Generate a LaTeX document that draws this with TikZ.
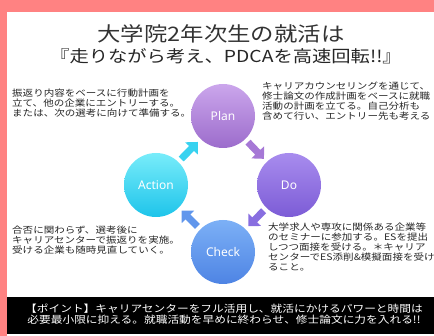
\documentclass[tikz,border=0pt]{standalone}
\usepackage{fontspec}
\usepackage{tikz}
\usetikzlibrary{arrows.meta}
\newfontfamily\jpfont[FakeStretch=1.17]{Noto Sans CJK JP}
\newfontfamily\latinfont{Noto Sans}
\definecolor{framepink}{HTML}{FF8282}
\definecolor{planTop}{HTML}{CBA6EC}
\definecolor{planBot}{HTML}{9C6CCC}
\definecolor{doTop}{HTML}{A88CEE}
\definecolor{doBot}{HTML}{7C5CD6}
\definecolor{checkTop}{HTML}{7CB0F6}
\definecolor{checkBot}{HTML}{4E84E4}
\definecolor{actionTop}{HTML}{78ECFA}
\definecolor{actionBot}{HTML}{1EC4EA}
\definecolor{planArrow}{HTML}{A678D6}
\definecolor{doArrow}{HTML}{886EE0}
\definecolor{checkArrow}{HTML}{6096EC}
\definecolor{actionArrow}{HTML}{38D2F0}

\begin{document}
\begin{tikzpicture}[x=1pt, y=-1pt]
    \tikzstyle{stage} = [circle, minimum size=64pt, inner sep=0pt, text=white, font=\latinfont\fontsize{12}{12}\selectfont]
    \tikzstyle{flow} = [line width=7pt, -{Triangle[length=9pt,width=17pt]}, shorten <=4pt, shorten >=4pt]
    \tikzstyle{note} = [anchor=north west, inner sep=0pt, align=left, text=black!85, font=\jpfont\fontsize{9}{9.8}\selectfont]
    \useasboundingbox (0,0) rectangle (434,336);
    \fill[framepink] (0,0) rectangle (434,12);
    \fill[framepink] (0,0) rectangle (7,336);
    \fill[black] (7,297) rectangle (434,334);

    \node[font=\jpfont\fontsize{20}{20}\selectfont, text=black!80] (title) at (221,34) {大学院2年次生の就活は};
    \node[font=\jpfont\fontsize{16.5}{16.5}\selectfont, text=black!85] (subtitle) at (226,56) {『走りながら考え、PDCAを高速回転!!』};

    % PDCA cycle
    \node[stage, top color=planTop, bottom color=planBot] (Plan) at (223,116) {Plan};
    \node[stage, top color=doTop, bottom color=doBot] (Do) at (289,185) {Do};
    \node[stage, top color=checkTop, bottom color=checkBot] (Check) at (223,252) {Check};
    \node[stage, top color=actionTop, bottom color=actionBot] (Action) at (156,185) {Action};

    \draw[flow, planArrow] (Plan) -- (Do);
    \draw[flow, doArrow] (Do) -- (Check);
    \draw[flow, checkArrow] (Check) -- (Action);
    \draw[flow, actionArrow] (Action) -- (Plan);

    \node[note] (planText) at (12,89) {振返り内容をベースに行動計画を\\立て、他の企業にエントリーする。\\または、次の選考に向けて準備する。};
    \node[note] (doText) at (262,82) {キャリアカウンセリングを通じて、\\修士論文の作成計画をベースに就職\\活動の計画を立てる。自己分析も\\含めて行い、エントリー先も考える};
    \node[note] (actionText) at (12,226) {合否に関わらず、選考後に\\キャリアセンターで振返りを実施。\\受ける企業も随時見直していく。};
    \node[note] (checkText) at (268,223) {大学求人や専攻に関係ある企業等\\のセミナーに参加する。ESを提出\\しつつ面接を受ける。＊キャリア\\センターでES添削\&模擬面接を受け\\ること。};

    \node[align=center, inner sep=0pt, text=white, font=\jpfont\fontsize{10}{11.5}\selectfont] (point) at (224,314) {【ポイント】キャリアセンターをフル活用し、就活にかけるパワーと時間は\\必要最小限に抑える。就職活動を早めに終わらせ、修士論文に力を入れる!!};
\end{tikzpicture}
\end{document}
